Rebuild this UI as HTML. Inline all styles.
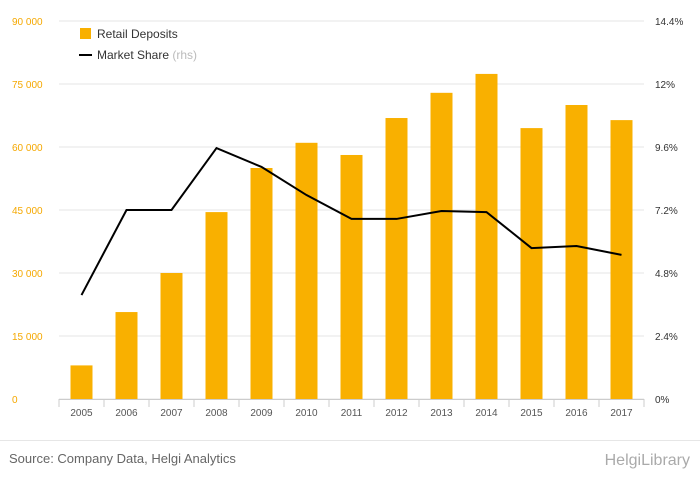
<!DOCTYPE html>
<html><head><meta charset="utf-8"><style>
body{margin:0;background:#fff;font-family:"Liberation Sans",sans-serif;}
#wrap{position:relative;width:700px;height:483px;overflow:hidden;}
</style></head><body>
<div id="wrap">
<svg id="chart" width="700" height="483"></svg>
</div>
<script>
const categories=["2005","2006","2007","2008","2009","2010","2011","2012","2013","2014","2015","2016","2017"];
const deposits=[8000,20700,30000,44500,55000,61000,58100,66900,72900,77400,64500,70000,66400];
const share=[3.96,7.2,7.2,9.56,8.84,7.77,6.86,6.86,7.16,7.12,5.75,5.83,5.49];
const leftTicks=[0,15000,30000,45000,60000,75000,90000];
const leftLabels=["0","15 000","30 000","45 000","60 000","75 000","90 000"];
const rightTicks=[0,2.4,4.8,7.2,9.6,12,14.4];
const rightLabels=["0%","2.4%","4.8%","7.2%","9.6%","12%","14.4%"];

const NS="http://www.w3.org/2000/svg";
const svg=document.getElementById('chart');
const x0=59,x1=644,yTop=21,yBot=399;
const step=(x1-x0)/categories.length;
const xc=i=>x0+step*(i+0.5);
const yL=v=>yBot-(v/90000)*(yBot-yTop);
const yR=v=>yBot-(v/14.4)*(yBot-yTop);
function mk(tag,attrs,parent){const e=document.createElementNS(NS,tag);for(const k in attrs)e.setAttribute(k,attrs[k]);(parent||svg).appendChild(e);return e;}

leftTicks.forEach((t,i)=>{
  const g=mk('line',{x1:x0,x2:x1,y1:yL(t),y2:yL(t),stroke:'#e6e6e6','stroke-width':1});
  
  
  const l=mk('text',{x:12,y:yL(t)+4,'font-size':10,fill:'#f5a800'});
  l.textContent=leftLabels[i];
  
  
});
rightTicks.forEach((t,i)=>{
  const l=mk('text',{x:655,y:yR(t)+4,'font-size':10,fill:'#333'});
  l.textContent=rightLabels[i];
  
  
});
const ax=mk('line',{x1:x0,x2:x1,y1:yBot+0.5,y2:yBot+0.5,stroke:'#ccc'});


for(let i=0;i<=categories.length;i++){
  const tk=mk('line',{x1:x0+step*i,x2:x0+step*i,y1:yBot,y2:yBot+8,stroke:'#ccc'});
  
  
}
categories.forEach((c,i)=>{
  const b=mk('rect',{x:xc(i)-11,y:yL(deposits[i]),width:22,height:yBot-yL(deposits[i]),fill:'#f9b000'});
  
  
  const l=mk('text',{x:xc(i),y:416,'font-size':10,fill:'#555','text-anchor':'middle'});
  l.textContent=c;
  
  
});
const line=mk('polyline',{points:share.map((v,i)=>xc(i)+','+yR(v)).join(' '),fill:'none',stroke:'#000','stroke-width':2});



// legend
const lb=mk('rect',{x:80,y:28,width:11,height:11,fill:'#f9b000'});


const lt=mk('text',{x:97,y:38,'font-size':12,fill:'#333'});lt.textContent='Retail Deposits';


const ll=mk('line',{x1:79,x2:92,y1:55,y2:55,stroke:'#000','stroke-width':2});


const lt2=mk('text',{x:97,y:59,'font-size':12,fill:'#333'});lt2.innerHTML='Market Share <tspan fill="#bbb">(rhs)</tspan>';



const sep=mk('line',{x1:0,x2:700,y1:440.5,y2:440.5,stroke:'#e6e6e6'});


const src=mk('text',{x:9,y:463,'font-size':13,fill:'#666'});src.textContent='Source: Company Data, Helgi Analytics';


const logo=mk('text',{x:690,y:465,'font-size':16,fill:'#aaa','text-anchor':'end'});logo.textContent='HelgiLibrary';


</script>
</body></html>
